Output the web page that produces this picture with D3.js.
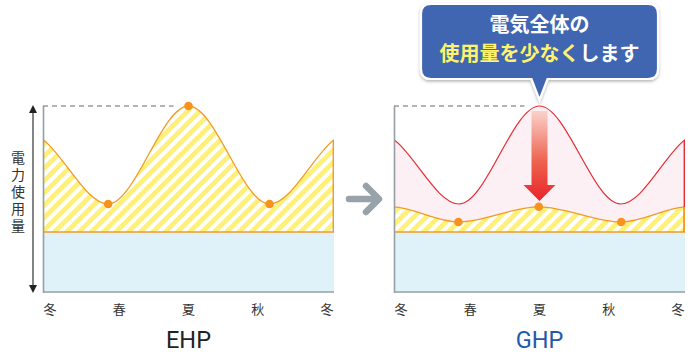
<!DOCTYPE html>
<html>
<head>
<meta charset="utf-8">
<script src="https://cdn.jsdelivr.net/npm/d3@7"></script>
<style>
  html, body { margin: 0; padding: 0; background: #fff; }
  svg { display: block; font-family: "Noto Sans CJK JP", "Noto Sans", sans-serif; }
</style>
</head>
<body>
<div id="area"></div>
<script>
// season labels along the bottom (0..4)
const seasons = ["冬", "春", "夏", "秋", "冬"];

// total electricity use over the year [season position, usage]; points just outside are the winter peaks
const totalUse = [[-1.4, 47], [-0.3, 85], [0.84, 47.3], [2.0, 100], [3.17, 47.3], [4.3, 85], [5.4, 47]];
// GHP electricity use (reduced)
const ghpUse = [[-1.3, 37.6], [-0.15, 45.8], [0.83, 37.6], [1.99, 45.8], [3.18, 37.6], [4.15, 45.8], [5.3, 37.6]];
// base load (blue band)
const baseLoad = 32.3;
// highlighted points (index into the series)
const dotIdx = [2, 3, 4];

const panelNames = ["EHP", "GHP"];
const yLabel = "電力使用量";
const calloutLines = [
  [{ t: "電気全体の", c: "#ffffff" }],
  [{ t: "使用量を少なく", c: "#fff36b" }, { t: "します", c: "#ffffff" }]
];

const width = 696, height = 354;
const gray = "#959fa5",
    orange = "#f39a24",
    dotColor = "#f7921e",
    yellow = "#fff07a",
    blueFill = "#dff1f9",
    pink = "#fdf0f4",
    red = "#e52b33";

const svg = d3.select("#area").append("svg")
    .attr("width", width).attr("height", height);
const defs = svg.append("defs");

// diagonal stripes
const pat = defs.append("pattern")
    .attr("id", "stripe")
    .attr("patternUnits", "userSpaceOnUse")
    .attr("width", 8.7).attr("height", 8.7)
    .attr("patternTransform", "rotate(45)");
pat.append("rect").attr("width", 8.7).attr("height", 8.7).attr("fill", "#fff");
pat.append("rect").attr("width", 4.8).attr("height", 8.7).attr("fill", yellow);

// arrow gradient
const grad = defs.append("linearGradient")
    .attr("id", "downGrad").attr("x1", 0).attr("y1", 0).attr("x2", 0).attr("y2", 1);
grad.append("stop").attr("offset", "0%").attr("stop-color", "#f9d2cc");
grad.append("stop").attr("offset", "55%").attr("stop-color", "#ee6450");
grad.append("stop").attr("offset", "100%").attr("stop-color", "#e8242a");

const shadow = defs.append("filter").attr("id", "shadow")
    .attr("x", "-10%").attr("y", "-10%").attr("width", "120%").attr("height", "130%");
shadow.append("feDropShadow").attr("dx", 0).attr("dy", 1.5).attr("stdDeviation", 1.5)
    .attr("flood-color", "#000").attr("flood-opacity", 0.3);

const y = d3.scaleLinear().domain([0, 100]).range([292, 106]);

function drawPanel(i) {
    const off = i * 351;
    const x = d3.scaleLinear().domain([-0.1, 4.1]).range([43 + off, 334 + off]);
    const [x0, x1] = x.range();
    const g = svg.append("g");

    const clipId = "plot" + i;
    defs.append("clipPath").attr("id", clipId)
        .append("rect").attr("x", x0).attr("y", 90).attr("width", x1 - x0).attr("height", 202);

    const plot = g.append("g").attr("clip-path", `url(#${clipId})`);

    // blue base band
    plot.append("rect")
        .attr("x", x0).attr("y", y(baseLoad))
        .attr("width", x1 - x0).attr("height", y(0) - y(baseLoad))
        .attr("fill", blueFill);

    const line = d3.line().x(d => x(d[0])).y(d => y(d[1])).curve(d3.curveMonotoneX);
    const area = d3.area().x(d => x(d[0])).y0(y(baseLoad)).y1(d => y(d[1])).curve(d3.curveMonotoneX);

    const top = i === 0 ? totalUse : ghpUse;

    if (i === 1) {
        // total use shown as pink area with red outline
        plot.append("path").attr("d", area(totalUse)).attr("fill", pink);
        plot.append("path").attr("d", line(totalUse))
            .attr("fill", "none").attr("stroke", red).attr("stroke-width", 1.2);
        const cid = "redEdge";
        defs.append("clipPath").attr("id", cid).append("path").attr("d", area(totalUse));
        g.append("line").attr("clip-path", `url(#${cid})`)
            .attr("x1", x1 - 0.7).attr("x2", x1 - 0.7).attr("y1", 90).attr("y2", y(baseLoad))
            .attr("stroke", red).attr("stroke-width", 1.4);
    }

    plot.append("path").attr("d", area(top)).attr("fill", "url(#stripe)");
    plot.append("path").attr("d", line(top))
        .attr("fill", "none").attr("stroke", orange).attr("stroke-width", 1.3);
    plot.append("line")
        .attr("x1", x0).attr("x2", x1).attr("y1", y(baseLoad)).attr("y2", y(baseLoad))
        .attr("stroke", orange).attr("stroke-width", 1.5);
    const eid = "orEdge" + i;
    defs.append("clipPath").attr("id", eid).append("path").attr("d", area(top));
    g.append("line").attr("clip-path", `url(#${eid})`)
        .attr("x1", x1 - 0.7).attr("x2", x1 - 0.7).attr("y1", 90).attr("y2", y(baseLoad))
        .attr("stroke", orange).attr("stroke-width", 1.4);

    // dashed max line
    const peak = totalUse[3];
    g.append("line")
        .attr("x1", x0).attr("x2", x(peak[0]) - 15)
        .attr("y1", y(peak[1])).attr("y2", y(peak[1]))
        .attr("stroke", gray).attr("stroke-width", 1.6).attr("stroke-dasharray", "5,4");

    // axes
    g.append("line").attr("x1", x0 + 0.5).attr("x2", x0 + 0.5).attr("y1", y(100)).attr("y2", y(0) + 1)
        .attr("stroke", gray).attr("stroke-width", 1.6);
    g.append("line").attr("x1", x0).attr("x2", x1).attr("y1", y(0)).attr("y2", y(0))
        .attr("stroke", gray).attr("stroke-width", 1.6);

    // orange dots
    g.selectAll("circle.dot").data(dotIdx.map(k => top[k])).enter()
        .append("circle").attr("class", "dot")
        .attr("cx", d => x(d[0])).attr("cy", d => y(d[1])).attr("r", 4.3)
        .attr("fill", dotColor);

    // season labels
    g.selectAll("text.season").data(seasons).enter()
        .append("text").attr("class", "season")
        .attr("x", (d, k) => x(k)).attr("y", 314)
        .attr("text-anchor", "middle")
        .attr("font-size", 13).attr("fill", "#333")
        .text(d => d);

    g.append("text")
        .attr("x", x(2)).attr("y", 348)
        .attr("text-anchor", "middle")
        .attr("font-family", "Roboto, sans-serif")
        .attr("font-size", 23.5)
        .attr("fill", i === 0 ? "#222" : "#1f5aa8")
        .text(panelNames[i]);

    return x;
}

drawPanel(0);
const xr = drawPanel(1);

// y-axis label with double arrow
const yl = svg.append("g");
yl.append("line").attr("x1", 33).attr("x2", 33).attr("y1", 112).attr("y2", 287)
    .attr("stroke", "#333").attr("stroke-width", 1.2);
yl.append("path").attr("d", "M33,105 L29,113 L37,113 Z").attr("fill", "#222");
yl.append("path").attr("d", "M33,293 L29,285 L37,285 Z").attr("fill", "#222");
yl.append("text")
    .attr("x", 18).attr("y", 193)
    .attr("writing-mode", "vertical-rl")
    .attr("text-anchor", "middle")
    .attr("letter-spacing", 2.8)
    .attr("font-size", 14).attr("fill", "#333")
    .text(yLabel);

// gray arrow between panels
svg.append("path")
    .attr("d", "M349,199 L378,199 M366,186 L379,199 L366,212")
    .attr("fill", "none").attr("stroke", "#97a2a9")
    .attr("stroke-width", 6.5).attr("stroke-linecap", "round").attr("stroke-linejoin", "round");

// red down arrow
const ax = xr(totalUse[3][0]);
svg.append("path")
    .attr("d", `M${ax - 8},111 L${ax + 8},111 L${ax + 8},185 L${ax + 16},185 L${ax},201 L${ax - 16},185 L${ax - 8},185 Z`)
    .attr("fill", "url(#downGrad)");

// callout
const cx = ax;
svg.append("path")
    .attr("d", `M${421 + 10},4 H${658 - 10} Q658,4 658,14 V${79 - 10} Q658,79 ${658 - 10},79 H${cx + 8} L${cx},100 L${cx - 8},79 H${421 + 10} Q421,79 421,69 V14 Q421,4 431,4 Z`)
    .attr("fill", "#3f66b1").attr("stroke", "#fff").attr("stroke-width", 2.2)
    .attr("filter", "url(#shadow)");

calloutLines.forEach((parts, k) => {
    const t = svg.append("text")
        .attr("x", cx).attr("y", 32 + k * 29)
        .attr("text-anchor", "middle")
        .attr("font-size", 20).attr("font-weight", "bold");
    parts.forEach(p => t.append("tspan").attr("fill", p.c).text(p.t));
});
</script>
</body>
</html>
